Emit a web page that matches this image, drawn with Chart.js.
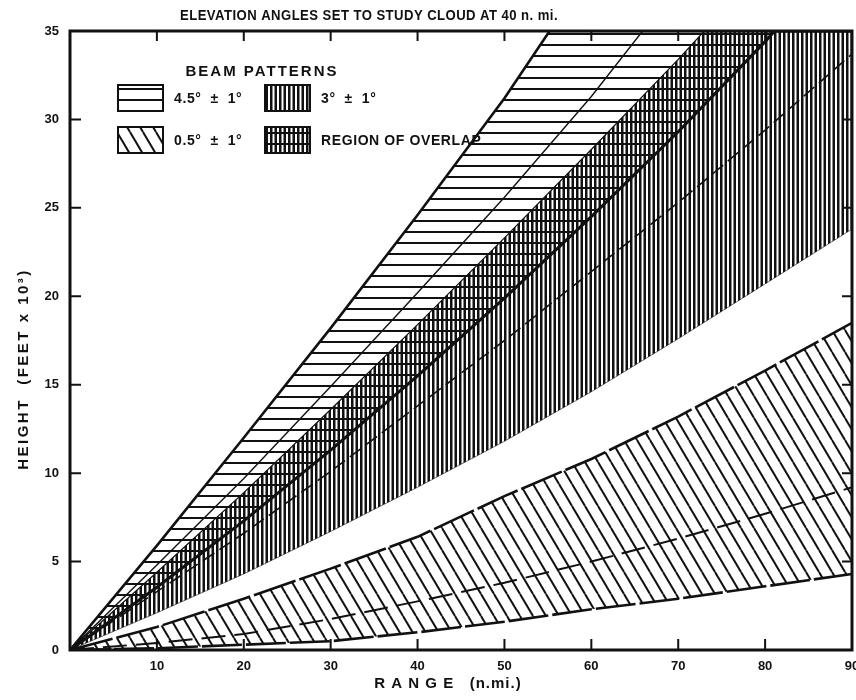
<!DOCTYPE html>
<html>
<head>
<meta charset="utf-8">
<script src="https://cdn.jsdelivr.net/npm/chart.js@4"></script>
<style>
  html, body { margin: 0; padding: 0; background: #fff; }
</style>
</head>
<body>
<canvas id="beamChart" width="856" height="700"></canvas>
<script>
// beam edges and axes: [range n.mi., height ft x 10^3]
const beam45Top = [[0, 0], [10, 5.9], [20, 12.0], [30, 18.2], [40, 24.6], [50, 31.2], [55.2, 35], [90, 35]];
const beam45Axis = [[0, 0], [10, 4.8], [20, 9.7], [30, 14.9], [40, 20.2], [50, 25.6], [60, 31.3], [65.9, 35]];
const beam45Bottom = [[0, 0], [10, 3.55], [20, 7.3], [30, 11.3], [40, 15.5], [50, 19.9], [60, 24.5], [70, 29.3], [80, 34.4], [81.1, 35], [90, 35]];
const beam3Top = [[0, 0], [10, 4.4], [20, 8.9], [30, 13.6], [40, 18.4], [50, 23.3], [60, 28.3], [70, 33.4], [73, 35], [90, 35]];
const beam3Axis = [[0, 0], [10, 3.3], [20, 6.6], [30, 10.1], [40, 13.8], [50, 17.5], [60, 21.4], [70, 25.3], [80, 29.4], [90, 33.7]];
const beam3Bottom = [[0, 0], [10, 2.1], [20, 4.3], [30, 6.7], [40, 9.2], [50, 11.8], [60, 14.6], [70, 17.6], [80, 20.7], [90, 23.8]];
const beam05Top = [[0, 0], [10, 1.3], [20, 2.9], [30, 4.6], [40, 6.4], [50, 8.7], [60, 10.8], [70, 13.2], [80, 15.8], [90, 18.5]];
const beam05Axis = [[0, 0], [10, 0.4], [20, 0.9], [30, 1.75], [40, 2.75], [50, 3.8], [60, 5.0], [70, 6.3], [80, 7.7], [90, 9.2]];
const beam05Bottom = [[0, 0], [10, 0.1], [20, 0.3], [30, 0.5], [40, 1.0], [50, 1.6], [60, 2.3], [70, 2.9], [80, 3.6], [90, 4.3]];

const xTicks = [10, 20, 30, 40, 50, 60, 70, 80, 90];
const yTicks = [0, 5, 10, 15, 20, 25, 30, 35];

const chartTitle = 'ELEVATION ANGLES SET TO STUDY CLOUD AT 40 n. mi.';
const xTitle = 'R A N G E   (n.mi.)';
const yTitle = 'HEIGHT  (FEET x 10\u00B3)';
const legendTitle = 'BEAM PATTERNS';
const legendLabels = [['4.5\u00B0  \u00B1  1\u00B0', '3\u00B0  \u00B1  1\u00B0'], ['0.5\u00B0  \u00B1  1\u00B0', 'REGION OF OVERLAP']];

const FONT = 'Liberation Sans';
const canvas = document.getElementById('beamChart');
const ctx = canvas.getContext('2d');

// hatch patterns
function hatch(w, h, draw) {
    const c = document.createElement('canvas');
    c.width = w;
    c.height = h;
    const g = c.getContext('2d');
    g.fillStyle = '#111';
    g.strokeStyle = '#111';
    draw(g);
    return ctx.createPattern(c, 'repeat');
}

const horizHatch = hatch(8, 11, g => g.fillRect(0, 0, 8, 2));
const vertHatch = hatch(9, 8, g => { g.fillRect(0, 0, 2.5, 8); g.fillRect(4.5, 0, 2.5, 8); });
const diagHatch = hatch(13, 22, g => {
    g.lineWidth = 2;
    [-13, 0, 13].forEach(o => {
        g.beginPath();
        g.moveTo(o, 0);
        g.lineTo(o + 13, 22);
        g.stroke();
    });
});

function line(points, opts) {
    return Object.assign({
        data: points.map(p => ({ x: p[0], y: p[1] })),
        borderColor: '#111',
        borderWidth: 2,
        pointRadius: 0,
        tension: 0,
        fill: false
    }, opts);
}

const decor = {
    id: 'decor',
    beforeDatasetsDraw(chart) {
        const c = chart.ctx;
        const a = chart.chartArea;
        const fills = [[[horizHatch], [vertHatch]], [[diagHatch], [horizHatch, vertHatch]]];
        c.save();
        c.fillStyle = '#111';
        c.textBaseline = 'middle';
        c.font = 'bold 15px ' + FONT;
        c.letterSpacing = '2px';
        c.textAlign = 'center';
        c.fillText(legendTitle, a.left + 192, a.top + 41);
        c.textAlign = 'left';
        legendLabels.forEach((row, r) => {
            const y = a.top + 54 + r * 42;
            row.forEach((label, k) => {
                const x = a.left + 48 + k * 147;
                fills[r][k].forEach(p => {
                    c.fillStyle = p;
                    c.fillRect(x, y, 45, 26);
                });
                c.lineWidth = 2;
                c.strokeStyle = '#111';
                c.strokeRect(x, y, 45, 26);
                c.fillStyle = '#111';
                c.font = 'bold 14px ' + FONT;
                c.letterSpacing = '0.6px';
                c.fillText(label, x + 56, y + 14);
            });
        });
        c.restore();
    },
    afterDatasetsDraw(chart) {
        const c = chart.ctx;
        const a = chart.chartArea;
        const xs = chart.scales.x;
        const ys = chart.scales.y;
        c.save();
        c.strokeStyle = '#111';
        c.lineWidth = 3;
        c.strokeRect(a.left, a.top, a.right - a.left, a.bottom - a.top);
        c.lineWidth = 2;
        c.beginPath();
        xTicks.filter(v => v < 90).forEach(v => {
            const px = xs.getPixelForValue(v);
            c.moveTo(px, a.bottom);
            c.lineTo(px, a.bottom - 11);
            c.moveTo(px, a.top);
            c.lineTo(px, a.top + 10);
        });
        yTicks.filter(v => v > 0 && v < 35).forEach(v => {
            const py = ys.getPixelForValue(v);
            c.moveTo(a.left, py);
            c.lineTo(a.left + 11, py);
            c.moveTo(a.right, py);
            c.lineTo(a.right - 10, py);
        });
        c.stroke();
        c.restore();
    },
    afterDraw(chart) {
        const c = chart.ctx;
        c.save();
        c.fillStyle = '#111';
        c.textBaseline = 'middle';
        c.textAlign = 'center';
        c.font = 'bold 15px ' + FONT;
        c.letterSpacing = '0.5px';
        c.fillText(chartTitle, 369, 16, 378);
        c.font = 'bold 15px ' + FONT;
        c.letterSpacing = '1px';
        c.fillText(xTitle, 448, 684, 172);
        c.translate(24, 369);
        c.rotate(-Math.PI / 2);
        c.letterSpacing = '2.5px';
        c.font = 'bold 15px ' + FONT;
        c.fillText(yTitle, 0, 0, 252);
        c.restore();
    }
};

new Chart(ctx, {
    type: 'line',
    data: {
        datasets: [
            line(beam45Top, { borderWidth: 2.6, fill: 2, backgroundColor: horizHatch }),
            line(beam45Axis, { borderWidth: 1.4 }),
            line(beam45Bottom, { borderWidth: 3 }),
            line(beam3Top, { borderWidth: 1.2, fill: 5, backgroundColor: vertHatch }),
            line(beam3Axis, { borderWidth: 1.6, borderDash: [14, 6] }),
            line(beam3Bottom, { borderWidth: 1, borderColor: 'rgba(0,0,0,0.55)' }),
            line(beam05Top, { borderWidth: 2.6, borderDash: [44, 4], fill: 8, backgroundColor: diagHatch }),
            line(beam05Axis, { borderWidth: 2, borderDash: [24, 9] }),
            line(beam05Bottom, { borderWidth: 2.6, borderDash: [40, 4] })
        ]
    },
    options: {
        responsive: false,
        animation: false,
        devicePixelRatio: 1,
        layout: { padding: { top: 31, right: 4, left: 0, bottom: 0 } },
        plugins: {
            legend: { display: false },
            title: { display: false },
            tooltip: { enabled: false }
        },
        scales: {
            x: {
                type: 'linear',
                min: 0,
                max: 90,
                afterBuildTicks: s => { s.ticks = xTicks.map(v => ({ value: v })); },
                afterFit: s => { s.height = 50; s.paddingLeft = 0; s.paddingRight = 0; },
                grid: { display: false, drawTicks: false },
                border: { display: false },
                ticks: {
                    color: '#111',
                    padding: 9,
                    maxRotation: 0,
                    autoSkip: false,
                    font: { family: FONT, weight: 'bold', size: 13 }
                }
            },
            y: {
                min: 0,
                max: 35,
                afterBuildTicks: s => { s.ticks = yTicks.map(v => ({ value: v })); },
                afterFit: s => { s.width = 70; },
                grid: { display: false, drawTicks: false },
                border: { display: false },
                ticks: {
                    color: '#111',
                    padding: 11,
                    font: { family: FONT, weight: 'bold', size: 13 }
                }
            }
        }
    },
    plugins: [decor]
});
</script>
</body>
</html>
